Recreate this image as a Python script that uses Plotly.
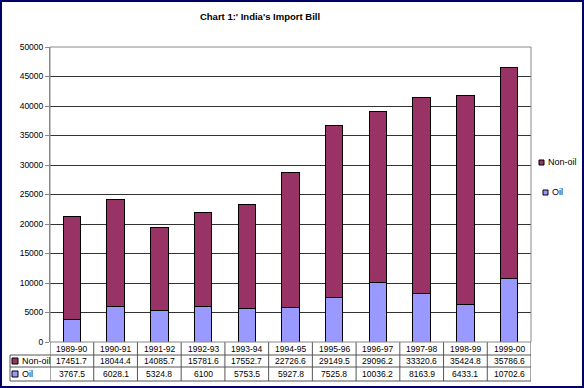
import plotly.graph_objects as go

categories = ["1989-90", "1990-91", "1991-92", "1992-93", "1993-94", "1994-95",
              "1995-96", "1996-97", "1997-98", "1998-99", "1999-00"]
non_oil = [17451.7, 18044.4, 14085.7, 15781.6, 17552.7, 22726.6,
           29149.5, 29096.2, 33320.6, 35424.8, 35786.6]
oil = [3767.5, 6028.1, 5324.8, 6100, 5753.5, 5927.8,
       7525.8, 10036.2, 8163.9, 6433.1, 10702.6]
colors = {"Oil": "#9999FF", "Non-oil": "#993366"}
title_text = "Chart 1:' India's Import Bill"
y_ticks = list(range(0, 50001, 5000))

W, H = 584, 388
ML, MR, MT, MB = 50, 53, 47, 46
PW, PH = W - ML - MR, H - MT - MB
FONT = "Liberation Sans, Arial, sans-serif"


def px_x(p):
    return (p - ML) / PW


def px_y(p):
    return (H - MB - p) / PH


fig = go.Figure()
fig.add_trace(go.Bar(x=categories, y=oil, name="Oil", marker_color=colors["Oil"],
                     marker_line=dict(color="black", width=1), showlegend=False))
fig.add_trace(go.Bar(x=categories, y=non_oil, name="Non-oil", marker_color=colors["Non-oil"],
                     marker_line=dict(color="black", width=1), showlegend=False))

shapes = []
annotations = []
line_col = "#555555"

r0, r1, r2, r3 = 342, 355, 367, 381
left = 10
n = len(categories)
for yy in (r1, r2, r3):
    shapes.append(dict(type="line", xref="paper", yref="paper", x0=px_x(left), x1=1,
                       y0=px_y(yy), y1=px_y(yy), line=dict(color=line_col, width=1)))
for i in range(n + 1):
    shapes.append(dict(type="line", xref="x", yref="paper", x0=i - 0.5, x1=i - 0.5,
                       y0=px_y(r0), y1=px_y(r3), line=dict(color=line_col, width=1)))
shapes.append(dict(type="line", xref="paper", yref="paper", x0=px_x(left), x1=px_x(left),
                   y0=px_y(r1), y1=px_y(r3), line=dict(color=line_col, width=1)))

tfont = dict(family=FONT, size=8.5, color="black")
for i, c in enumerate(categories):
    annotations.append(dict(x=c, xref="x", y=px_y((r0 + r1) / 2), yref="paper",
                            text=c, showarrow=False, font=tfont, yanchor="middle"))
    annotations.append(dict(x=c, xref="x", y=px_y((r1 + r2) / 2), yref="paper",
                            text=f"{non_oil[i]:g}", showarrow=False, font=tfont, yanchor="middle"))
    annotations.append(dict(x=c, xref="x", y=px_y((r2 + r3) / 2), yref="paper",
                            text=f"{oil[i]:g}", showarrow=False, font=tfont, yanchor="middle"))

for name, (ya, yb) in [("Non-oil", (r1, r2)), ("Oil", (r2, r3))]:
    cy = (ya + yb) / 2
    shapes.append(dict(type="rect", xref="paper", yref="paper",
                       x0=px_x(12), x1=px_x(18), y0=px_y(cy + 3), y1=px_y(cy - 3),
                       fillcolor=colors[name], line=dict(color="black", width=1)))
    annotations.append(dict(x=px_x(20), xref="paper", y=px_y(cy), yref="paper",
                            text=name, showarrow=False, font=dict(family=FONT, size=9, color="black"),
                            xanchor="left", yanchor="middle"))

for name, cy in [("Non-oil", 162), ("Oil", 192)]:
    x0 = 539 if name == "Non-oil" else 543
    shapes.append(dict(type="rect", xref="paper", yref="paper",
                       x0=px_x(x0), x1=px_x(x0 + 5), y0=px_y(cy + 3), y1=px_y(cy - 2),
                       fillcolor=colors[name], line=dict(color="black", width=1)))
    annotations.append(dict(x=px_x(x0 + 7), xref="paper", y=px_y(cy), yref="paper",
                            text=name, showarrow=False, font=dict(family=FONT, size=9, color="black"),
                            xanchor="left", yanchor="middle"))

shapes.append(dict(type="rect", xref="paper", yref="paper", x0=0, x1=1, y0=0, y1=1,
                   line=dict(color="#888888", width=1), layer="above"))
shapes.append(dict(type="rect", xref="paper", yref="paper",
                   x0=px_x(1), x1=px_x(W - 1), y0=px_y(H - 1), y1=px_y(1),
                   line=dict(color="#000066", width=2)))

fig.update_layout(
    width=W, height=H,
    margin=dict(l=ML, r=MR, t=MT, b=MB),
    barmode="stack", bargap=0.6,
    paper_bgcolor="white", plot_bgcolor="white",
    title=dict(text="<b>" + title_text + "</b>", x=260 / W, xref="container", y=1 - 17 / H,
               yanchor="middle", xanchor="center",
               font=dict(family=FONT, size=9.5, color="black")),
    font=dict(family=FONT, size=9, color="black"),
    xaxis=dict(type="category", showticklabels=False, ticks="", showgrid=False,
               showline=False, zeroline=False, range=[-0.5, n - 0.5]),
    yaxis=dict(range=[0, 50000], tickvals=y_ticks, ticktext=[str(v) for v in y_ticks],
               showgrid=True, gridcolor="#333333", gridwidth=1, zeroline=False,
               showline=True, linecolor="#888888", ticks="outside", ticklen=4,
               tickcolor="#888888", tickfont=dict(family=FONT, size=8.5, color="black")),
    shapes=shapes, annotations=annotations,
)

fig.write_html("out.html", config={"displayModeBar": False},
               post_script="document.body.style.margin='0px';document.body.style.padding='0px';")
